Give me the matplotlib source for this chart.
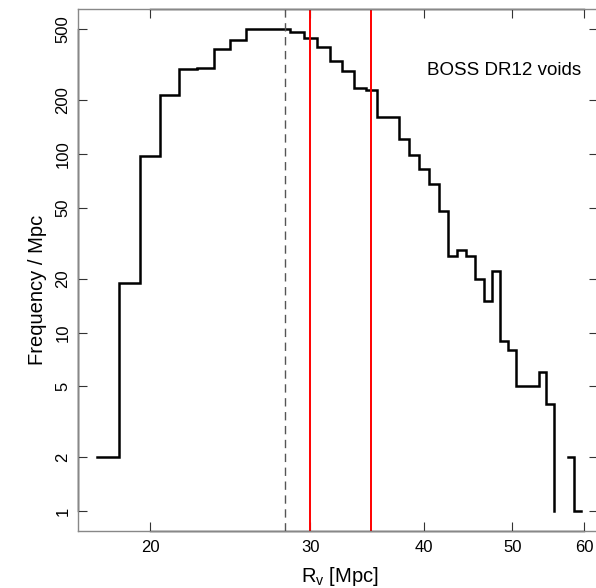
import numpy as np
import matplotlib
matplotlib.use('Agg')
import matplotlib.pyplot as plt
from matplotlib.ticker import FixedLocator, NullLocator

plt.rcParams['font.family'] = ['Liberation Sans', 'DejaVu Sans']

# bin left edges (Mpc) and frequency per Mpc
r_edges = np.arange(17.5, 60.0, 1.0)
freq = [2, 19, 97, 214, 300, 303, 388, 436, 500, 505,
        505, 481, 445, 400, 332, 292, 236, 229, 161, 161,
        121, 99, 82, 68, 48, 27, 29, 27, 20, 15,
        22, 9, 8, 5, 5, 5, 6, 4, 1, 0,
        2, 1, 1]

mean_r = 28.1
red_lines = [30, 35]

x_ticks = [20, 30, 40, 50, 60]
y_ticks = [1, 2, 5, 10, 20, 50, 100, 200, 500]

# step path like R's type="s": a step is dropped if either end is zero
sx, sy = [], []
for i in range(len(freq) - 1):
    if freq[i] > 0 and freq[i + 1] > 0:
        if not (sx and sx[-1] == r_edges[i] and sy[-1] == freq[i]):
            sx += [np.nan, r_edges[i]]
            sy += [np.nan, freq[i]]
        sx += [r_edges[i + 1], r_edges[i + 1]]
        sy += [freq[i], freq[i + 1]]

fig = plt.figure(figsize=(5.96, 5.88), dpi=100)
ax = fig.add_axes([78 / 596, 1 - 530.7 / 588, 520 / 596, 521.7 / 588])

ax.plot(sx, sy, color='black', lw=1.8, solid_joinstyle='miter')
ax.axvline(mean_r, color='#555555', lw=1, dashes=(6, 4))
for r in red_lines:
    ax.axvline(r, color='red', lw=1.4)

ax.set_xscale('log')
ax.set_yscale('log')
ax.set_xlim(16.66, 62.1)
ax.set_ylim(0.776, 650)

ax.xaxis.set_major_locator(FixedLocator(x_ticks))
ax.xaxis.set_minor_locator(NullLocator())
ax.yaxis.set_major_locator(FixedLocator(y_ticks))
ax.yaxis.set_minor_locator(NullLocator())
ax.set_xticklabels([str(t) for t in x_ticks])
ax.set_yticklabels([str(t) for t in y_ticks], rotation=90, va='center')

ax.tick_params(direction='in', length=6.5, width=0.8, colors='#333333',
               labelcolor='black', labelsize=12, top=True, right=True)
ax.tick_params(axis='x', pad=7)
ax.tick_params(axis='y', pad=5.5)

for sp in ax.spines.values():
    sp.set_color('#888888')
    sp.set_linewidth(1)
ax.spines['right'].set_visible(False)

# black axis lines spanning first to last tick
ax.plot([x_ticks[0], x_ticks[-1]], [0, 0], color='black', lw=1,
        transform=ax.get_xaxis_transform(), clip_on=False)
ax.plot([x_ticks[0], x_ticks[-1]], [1, 1], color='black', lw=1,
        transform=ax.get_xaxis_transform(), clip_on=False)
ax.plot([0, 0], [y_ticks[0], y_ticks[-1]], color='black', lw=1,
        transform=ax.get_yaxis_transform(), clip_on=False)

ax.set_xlabel(r'R$_\mathregular{v}$ [Mpc]', fontsize=14.5)
ax.xaxis.label.set_va('center')
ax.xaxis.set_label_coords(0.503, -0.0887)
ax.set_ylabel('Frequency / Mpc', fontsize=14.5)
ax.yaxis.label.set_va('center')
ax.yaxis.set_label_coords(-0.077, 0.461)

ax.text(0.82, 0.882, 'BOSS DR12 voids', transform=ax.transAxes,
        fontsize=13.5, ha='center', va='center')

fig.savefig('out.png', dpi=100)
